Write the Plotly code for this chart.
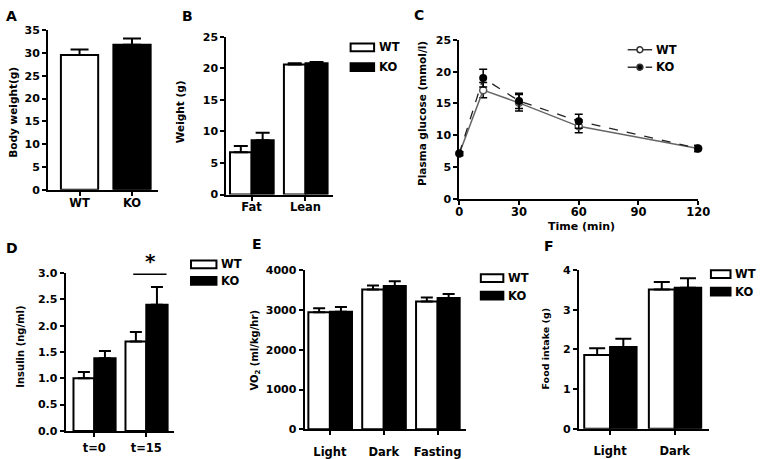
import plotly.graph_objects as go

# ---------------- data ----------------
genotypes = ["WT", "KO"]
body_weight = [29.6, 31.8]
body_weight_err = [1.2, 1.4]

comp_cats = ["Fat", "Lean"]
comp_wt = [6.7, 20.6]
comp_wt_err = [1.0, 0.2]
comp_ko = [8.6, 20.8]
comp_ko_err = [1.2, 0.2]

gtt_time = [0, 12, 30, 60, 120]
gtt_wt = [7.1, 17.1, 15.1, 11.4, 7.9]
gtt_wt_err = [0.3, 1.2, 1.3, 1.0, 0.4]
gtt_ko = [7.1, 19.0, 15.4, 12.2, 7.9]
gtt_ko_err = [0.3, 1.4, 1.2, 1.1, 0.5]

ins_cats = ["t=0", "t=15"]
ins_wt = [1.0, 1.7]
ins_wt_err = [0.12, 0.18]
ins_ko = [1.38, 2.4]
ins_ko_err = [0.14, 0.34]

vo2_cats = ["Light", "Dark", "Fasting"]
vo2_wt = [2940, 3510, 3210]
vo2_wt_err = [100, 100, 100]
vo2_ko = [2950, 3600, 3300]
vo2_ko_err = [120, 120, 100]

food_cats = ["Light", "Dark"]
food_wt = [1.86, 3.51]
food_wt_err = [0.17, 0.19]
food_ko = [2.06, 3.55]
food_ko_err = [0.21, 0.24]

W, H = 766, 459
FONT = "DejaVu Sans, Verdana, sans-serif"


def X(px):
    return px / W


def Y(py):
    return 1 - py / H


def err(arr, cap):
    return dict(type="data", symmetric=False, array=arr, arrayminus=[0] * len(arr),
                color="black", thickness=2, width=cap)


fig = go.Figure()

# ---- A ----
fig.add_trace(go.Bar(x=genotypes, y=body_weight, error_y=err(body_weight_err, 9),
                     marker=dict(color=["white", "black"], line=dict(color="black", width=2)),
                     width=0.71, offset=-0.355, xaxis="x", yaxis="y", showlegend=False))


# ---- grouped bar helper ----
def grouped(cats, wt, wte, ko, koe, xa, ya, cap):
    fig.add_trace(go.Bar(x=cats, y=wt, error_y=err(wte, cap), name="WT",
                         marker=dict(color="white", line=dict(color="black", width=2)),
                         width=0.4, offset=-0.4, xaxis=xa, yaxis=ya, showlegend=False))
    fig.add_trace(go.Bar(x=cats, y=ko, error_y=err(koe, cap), name="KO",
                         marker=dict(color="black", line=dict(color="black", width=2)),
                         width=0.41, offset=0.0, xaxis=xa, yaxis=ya, showlegend=False))


grouped(comp_cats, comp_wt, comp_wt_err, comp_ko, comp_ko_err, "x2", "y2", 7)

# ---- C ----
fig.add_trace(go.Scatter(x=gtt_time, y=gtt_wt, mode="lines+markers", name="WT",
                         line=dict(color="#666666", width=1.5),
                         marker=dict(symbol="circle", size=7, color="white",
                                     line=dict(color="#555555", width=1.5)),
                         error_y=dict(type="data", array=gtt_wt_err, color="black", thickness=1.5, width=4),
                         xaxis="x3", yaxis="y3", showlegend=False, cliponaxis=False))
fig.add_trace(go.Scatter(x=gtt_time, y=gtt_ko, mode="lines+markers", name="KO",
                         line=dict(color="#222222", width=1.3, dash="dash"),
                         marker=dict(symbol="circle", size=8, color="black"),
                         error_y=dict(type="data", array=gtt_ko_err, color="black", thickness=1.5, width=4),
                         xaxis="x3", yaxis="y3", showlegend=False, cliponaxis=False))

grouped(ins_cats, ins_wt, ins_wt_err, ins_ko, ins_ko_err, "x4", "y4", 6)
grouped(vo2_cats, vo2_wt, vo2_wt_err, vo2_ko, vo2_ko_err, "x5", "y5", 6)
grouped(food_cats, food_wt, food_wt_err, food_ko, food_ko_err, "x6", "y6", 8)

tickfont = dict(family=FONT, size=11, color="black", weight="bold")
xtickfont = dict(family=FONT, size=11.5, color="black", weight="bold")


def xaxis(x0, x1, rng, anchor, standoff, **kw):
    d = dict(domain=[X(x0), X(x1)], range=rng, anchor=anchor, showline=True, linecolor="black",
             linewidth=2, ticks="outside", ticklen=4, tickwidth=2, tickcolor="black",
             showgrid=False, zeroline=False, tickfont=xtickfont, fixedrange=True,
             ticklabelstandoff=standoff)
    d.update(kw)
    return d


def yaxis(top, bottom, rng, dtick, anchor, **kw):
    d = dict(domain=[Y(bottom), Y(top)], range=rng, dtick=dtick, anchor=anchor, showline=True,
             linecolor="black", linewidth=2, ticks="outside", ticklen=4, tickwidth=2,
             tickcolor="black", showgrid=False, zeroline=False, tickfont=tickfont, fixedrange=True)
    d.update(kw)
    return d


layout = dict(
    width=W, height=H, margin=dict(l=0, r=0, t=0, b=0), paper_bgcolor="white",
    plot_bgcolor="rgba(0,0,0,0)", barmode="overlay", font=dict(family=FONT, color="black"),
    xaxis=xaxis(45, 157, [-0.6, 1.49], "y", -2, type="category"),
    yaxis=yaxis(25, 189, [0, 35], 5, "x"),
    xaxis2=xaxis(227, 336, [-0.47, 1.51], "y2", -3, type="category"),
    yaxis2=yaxis(31.7, 194, [0, 25], 5, "x2"),
    xaxis3=xaxis(465, 709, [0, 120], "y3", -2, tickvals=[0, 30, 60, 90, 120]),
    yaxis3=yaxis(35, 198.3, [0, 25], 5, "x3"),
    xaxis4=xaxis(63, 174, [-0.55, 1.54], "y4", 1, type="category"),
    yaxis4=yaxis(275, 437.3, [0, 3], 0.5, "x4", tickformat=".1f"),
    xaxis5=xaxis(307, 472, [-0.47, 2.53], "y5", 7, type="category"),
    yaxis5=yaxis(271.7, 435.7, [0, 4000], 1000, "x5"),
    xaxis6=xaxis(587, 720, [-0.485, 1.53], "y6", 7, type="category"),
    yaxis6=yaxis(271.7, 435, [0, 4], 1, "x6"),
)
fig.update_layout(**layout)

ann = []
# panel letters
for letter, px, py in [("A", 8, 10), ("B", 187, 10), ("C", 424, 9), ("D", 8, 249), ("E", 258, 245), ("F", 557, 247)]:
    ann.append(dict(text=letter, x=X(px), y=Y(py), xref="paper", yref="paper", showarrow=False,
                    xanchor="center", yanchor="middle",
                    font=dict(family=FONT, size=14, color="black", weight="bold")))
# y titles
for txt, px, py, sz in [("Body weight(g)", 9, 109, 10.5), ("Weight (g)", 180, 109, 10.5),
                        ("Plasma glucose (mmol/l)", 427, 111, 10.5), ("Insulin (ng/ml)", 16, 351, 10),
                        ("VO<sub>2</sub> (ml/kg/hr)", 257, 354, 10), ("Food intake (g)", 553, 352, 9.5)]:
    ann.append(dict(text=txt, x=X(px), y=Y(py), xref="paper", yref="paper", showarrow=False,
                    textangle=-90, xanchor="center", yanchor="middle",
                    font=dict(family=FONT, size=sz, color="black", weight="bold")))
ann.append(dict(text="Time (min)", x=X(590), y=Y(227), xref="paper", yref="paper", showarrow=False,
                xanchor="center", yanchor="middle",
                font=dict(family=FONT, size=11, color="black", weight="bold")))
ann.append(dict(text="*", x=X(150), y=Y(262), xref="paper", yref="paper", showarrow=False,
                xanchor="center", yanchor="middle",
                font=dict(family=FONT, size=20, color="black", weight="bold")))

shapes = [dict(type="line", xref="paper", yref="paper", x0=X(132), x1=X(166), y0=Y(276), y1=Y(276),
               line=dict(color="black", width=1.5))]

# bar legends
for bx0, bx1, wy, ky in [(354, 378, 42.5, 63), (191, 217, 266, 283), (487, 510, 280, 298), (722, 742, 276, 294)]:
    for cy, fill, label in [(wy, "white", "WT"), (ky, "black", "KO")]:
        shapes.append(dict(type="rect", xref="paper", yref="paper", x0=X(bx0), x1=X(bx1),
                           y0=Y(cy + 4), y1=Y(cy - 4), fillcolor=fill, line=dict(color="black", width=2)))
        ann.append(dict(text=label, x=X(bx1 + 3), y=Y(cy), xref="paper", yref="paper", showarrow=False,
                        xanchor="left", yanchor="middle",
                        font=dict(family=FONT, size=11.5, color="black", weight="bold")))

# line legend (C)
for cy, fill, dash, label in [(45, "white", "solid", "WT"), (63, "black", "dash", "KO")]:
    shapes.append(dict(type="line", xref="paper", yref="paper", x0=X(637), x1=X(662), y0=Y(cy), y1=Y(cy),
                       line=dict(color="#333333", width=1.5, dash=dash)))
    shapes.append(dict(type="circle", xref="paper", yref="paper", x0=X(646.5), x1=X(652.5),
                       y0=Y(cy + 3), y1=Y(cy - 3), fillcolor=fill, line=dict(color="#333333", width=1.5)))
    ann.append(dict(text=label, x=X(664), y=Y(cy), xref="paper", yref="paper", showarrow=False,
                    xanchor="left", yanchor="middle",
                    font=dict(family=FONT, size=11.5, color="black", weight="bold")))

fig.update_layout(annotations=ann, shapes=shapes)
fig.write_html("out.html", config={"displayModeBar": False},
               post_script="document.body.style.margin = '0px';")
